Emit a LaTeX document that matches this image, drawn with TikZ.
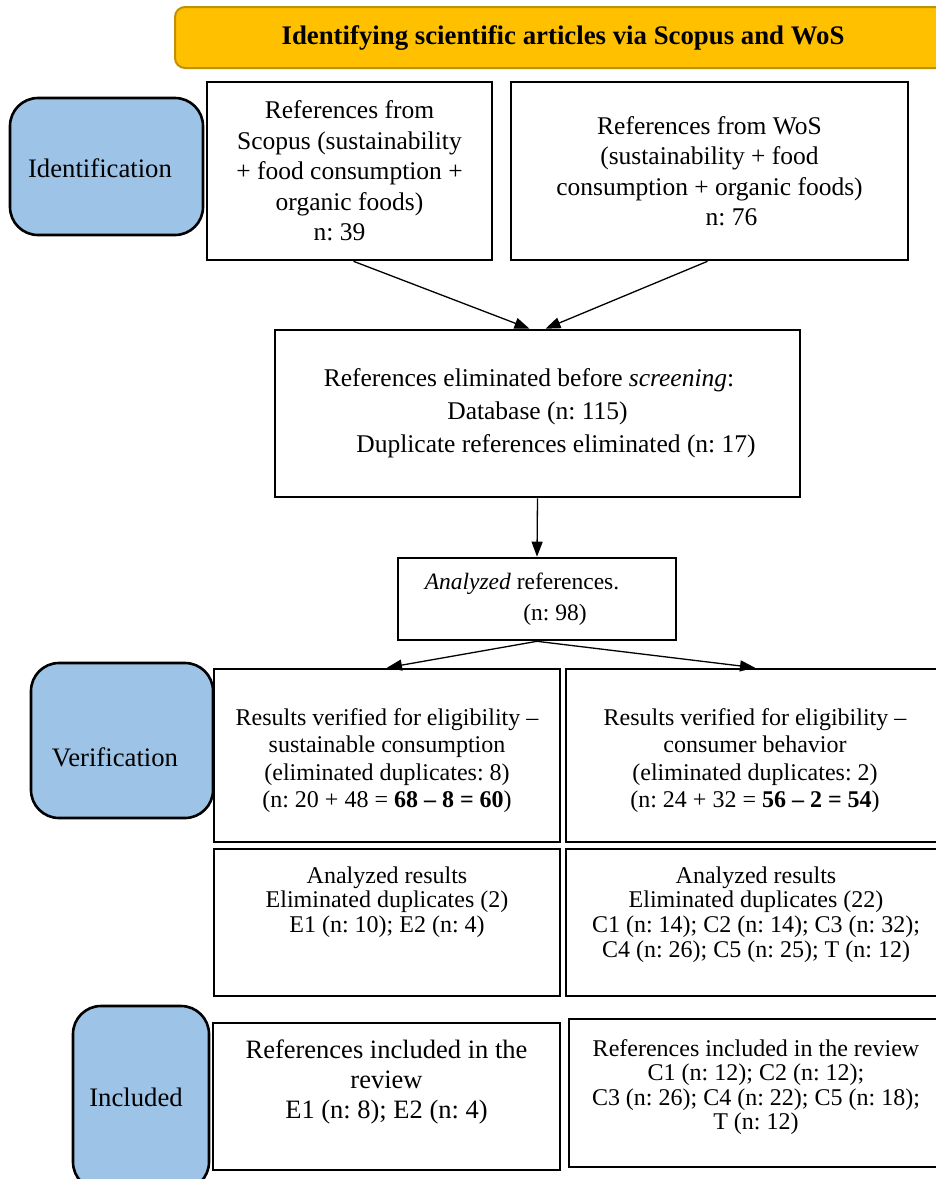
\documentclass[tikz,border=0pt]{standalone}
\usepackage{fontspec}
\setmainfont{Liberation Serif}
\usetikzlibrary{arrows.meta}
\definecolor{gold}{HTML}{FFC000}
\definecolor{golddark}{HTML}{BF9000}
\definecolor{phaseblue}{HTML}{9DC3E6}
\frenchspacing
\tikzset{
  box/.style={draw, line width=2.6pt, inner sep=0pt, align=center, fill=white},
  phase/.style={draw, line width=2.6pt, rounded corners=28pt, fill=phaseblue, inner sep=0pt},
  txt/.style={inner sep=0pt, align=center},
  topfont/.style={font=\fontsize{25.5}{30.5}\selectfont},
  elimfont/.style={font=\fontsize{25.5}{33}\selectfont},
  analfont/.style={font=\fontsize{23.5}{31}\selectfont},
  midfont/.style={font=\fontsize{24}{27.6}\selectfont},
  smallfont/.style={font=\fontsize{24}{24.6}\selectfont},
  phasefont/.style={font=\fontsize{26.7}{30}\selectfont},
  arr/.style={-{Triangle[length=15pt,width=11pt]}, line width=1.3pt},
}
\begin{document}
\begin{tikzpicture}[x=1pt,y=-1pt]
\useasboundingbox (0,0) rectangle (936,1179);
\clip (0,0) rectangle (936,1179);

% banner
\node[draw=golddark, fill=gold, line width=2pt, rounded corners=10pt,
      minimum width=776pt, minimum height=61pt, inner sep=0pt] (banner) at (563,37.5) {};
\node[txt, font=\fontsize{26.8}{30}\selectfont\bfseries] (bannertext) at (563,38)
  {Identifying scientific articles via Scopus and WoS};

% phase boxes
\node[phase, minimum width=193pt, minimum height=137pt] (ident) at (106.5,166.5) {};
\node[txt, phasefont] (identtext) at (100,168) {Identification};
\node[phase, minimum width=182pt, minimum height=155pt] (verif) at (122,740.5) {};
\node[txt, phasefont] (veriftext) at (115,757) {Verification};
\node[phase, minimum width=136pt, minimum height=184pt] (incl) at (141,1098) {};
\node[txt, phasefont] (incltext) at (136,1097) {Included};

% identification boxes
\node[box, topfont, minimum width=285pt, minimum height=178pt] (scopus) at (349.5,171)
  {References from\\ Scopus (sustainability\\ + food consumption +\\ organic foods)\\ n: 39\hspace*{20pt}};
\node[box, topfont, minimum width=397pt, minimum height=178pt] (wos) at (709.5,171)
  {References from WoS\\ (sustainability + food\\ consumption + organic foods)\\ \hspace*{44pt}n: 76};

\node[box, elimfont, minimum width=525pt, minimum height=167pt] (elim) at (537.5,413.5)
  {References eliminated before \emph{screening}:\hspace*{17pt}\\
   Database (n: 115)\hspace*{10pt}\\
   \hspace*{37pt}Duplicate references eliminated (n: 17)};

\node[box, analfont, minimum width=278pt, minimum height=82pt] (anal) at (537,599)
  {\emph{Analyzed} references.\hspace*{30pt}\\ \hspace*{36pt}(n: 98)};

% verification
\node[box, minimum width=346pt, minimum height=173pt] (vl) at (387,755.5) {};
\node[txt, midfont] (vltext) at (387,760.5)
  {Results verified for eligibility –\\ sustainable consumption\\ (eliminated duplicates: 8)\\
   (n: 20 + 48 = \textbf{68 – 8 = 60})};
\node[box, minimum width=378pt, minimum height=173pt] (vr) at (755,755.5) {};
\node[txt, midfont] (vrtext) at (755,760.5)
  {Results verified for eligibility –\\ consumer behavior\\ (eliminated duplicates: 2)\\
   (n: 24 + 32 = \textbf{56 – 2 = 54})};

\node[box, minimum width=346pt, minimum height=147pt] (al) at (387,922.5) {};
\node[txt, smallfont] (altext) at (387,902)
  {Analyzed results\\ Eliminated duplicates (2)\\ E1 (n: 10); E2 (n: 4)};
\node[box, minimum width=378pt, minimum height=147pt] (ar) at (755,922.5) {};
\node[txt, smallfont] (artext) at (756,914.5)
  {Analyzed results\\ Eliminated duplicates (22)\\ C1 (n: 14); C2 (n: 14); C3 (n: 32);\\ C4 (n: 26); C5 (n: 25); T (n: 12)};

% included
\node[box, minimum width=347pt, minimum height=147pt] (il) at (386.5,1096.5) {};
\node[txt, font=\fontsize{26.5}{30}\selectfont] (iltext) at (386.5,1082)
  {References included in the\\ review\\ E1 (n: 8); E2 (n: 4)};
\node[box, minimum width=375pt, minimum height=148pt] (ir) at (756.5,1093) {};
\node[txt, smallfont] (irtext) at (756,1087)
  {References included in the review\\ C1 (n: 12); C2 (n: 12);\\ C3 (n: 26); C4 (n: 22); C5 (n: 18);\\ T (n: 12)};

% connectors
\draw[arr] ([xshift=4pt]scopus.south) -- ([xshift=-8pt]elim.north);
\draw[arr] ([xshift=-2pt]wos.south) -- ([xshift=8pt]elim.north);
\draw[arr] (elim.south) -- (anal.north);
\draw[arr] (anal.south) -- (vl.north);
\draw[arr] (anal.south) -- (vr.north);
\end{tikzpicture}
\end{document}
